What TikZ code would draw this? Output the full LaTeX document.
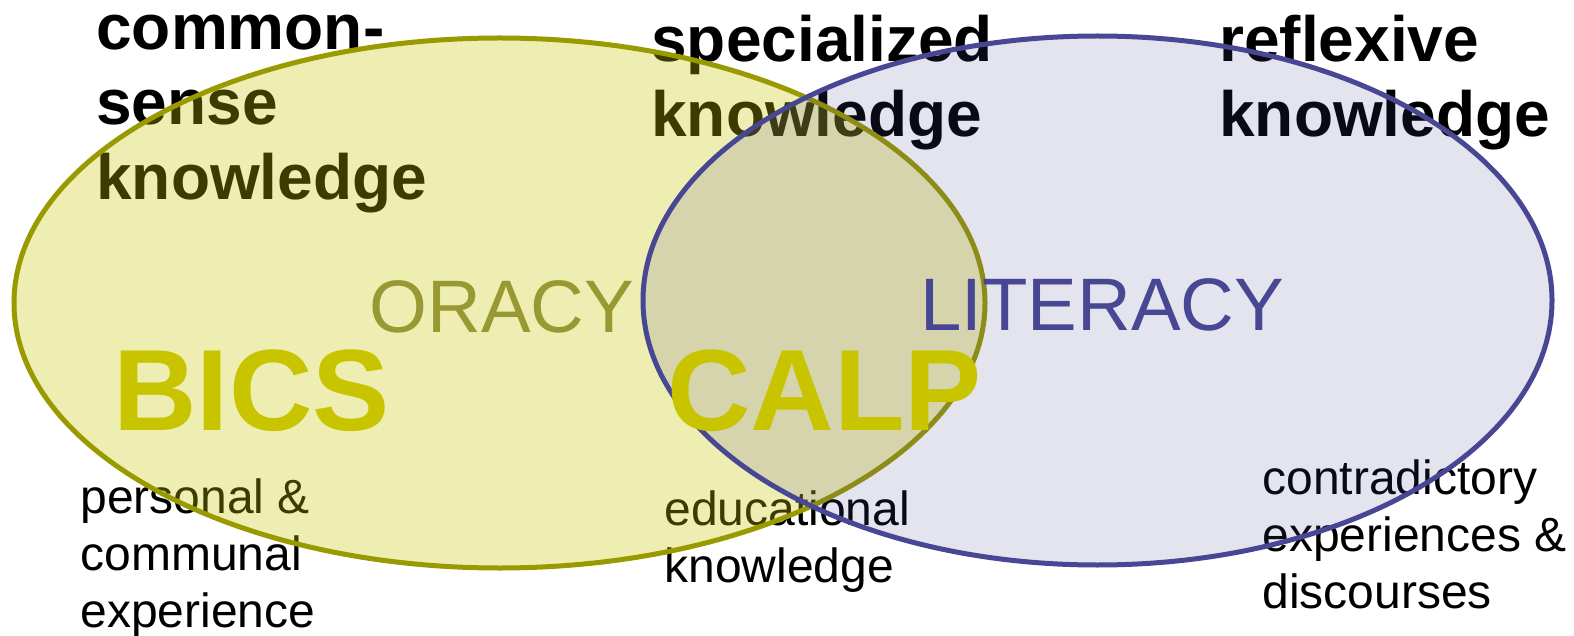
\documentclass[tikz,border=0pt]{standalone}
\usepackage{fontspec}
\setmainfont{Liberation Sans}

\definecolor{bicsyellow}{HTML}{C8C400}
\definecolor{oracyolive}{HTML}{999933}
\definecolor{rimolive}{HTML}{999900}
\definecolor{litblue}{HTML}{474794}

\tikzset{
  kind/.style={font=\fontsize{32}{37.5}\selectfont\bfseries},
  source/.style={font=\fontsize{24}{28.5}\selectfont},
  mode/.style={font=\fontsize{37.2}{40}\selectfont},
  skill/.style={font=\fontsize{57.8}{60}\selectfont\bfseries,bicsyellow},
}

\begin{document}
\begin{tikzpicture}[x=0.5pt,y=-0.5pt,
    every node/.style={inner sep=0pt,anchor=base west,align=left}]
    \useasboundingbox (0,0) rectangle (1574,636);
    % kinds of knowledge, lying under the two sets (placed by last baseline)
    \node[kind] (common) at (96,200) {common-\\sense\\knowledge};
    \node[kind] (special) at (651,137) {specialized\\knowledge};
    \node[kind] (reflex) at (1219,137) {reflexive\\knowledge};
    \node[source] (personal) at (80,627) {personal \&\\communal\\experience};
    \node[source] (educ) at (664,582) {educational\\knowledge};
    \node[source] (contra) at (1262,608) {contradictory\\experiences \&\\discourses};
    % the two sets
    \fill[bicsyellow,fill opacity=.3] (499.5,303) ellipse[x radius=485.5,y radius=265];
    \draw[rimolive,line width=2.5pt] (499.5,303) ellipse[x radius=485.5,y radius=265];
    \fill[litblue,fill opacity=.15] (1097.5,300.5) ellipse[x radius=454.5,y radius=264.5];
    \draw[litblue,line width=2.5pt] (1097.5,300.5) ellipse[x radius=454.5,y radius=264.5];
    % labels on top
    \node[mode,oracyolive] (oracy) at (369,332) {ORACY};
    \node[mode,litblue] (literacy) at (920,330) {LITERACY};
    \node[skill] (bics) at (113,430) {BICS};
    \node[skill] (calp) at (667,430) {CALP};
\end{tikzpicture}
\end{document}
